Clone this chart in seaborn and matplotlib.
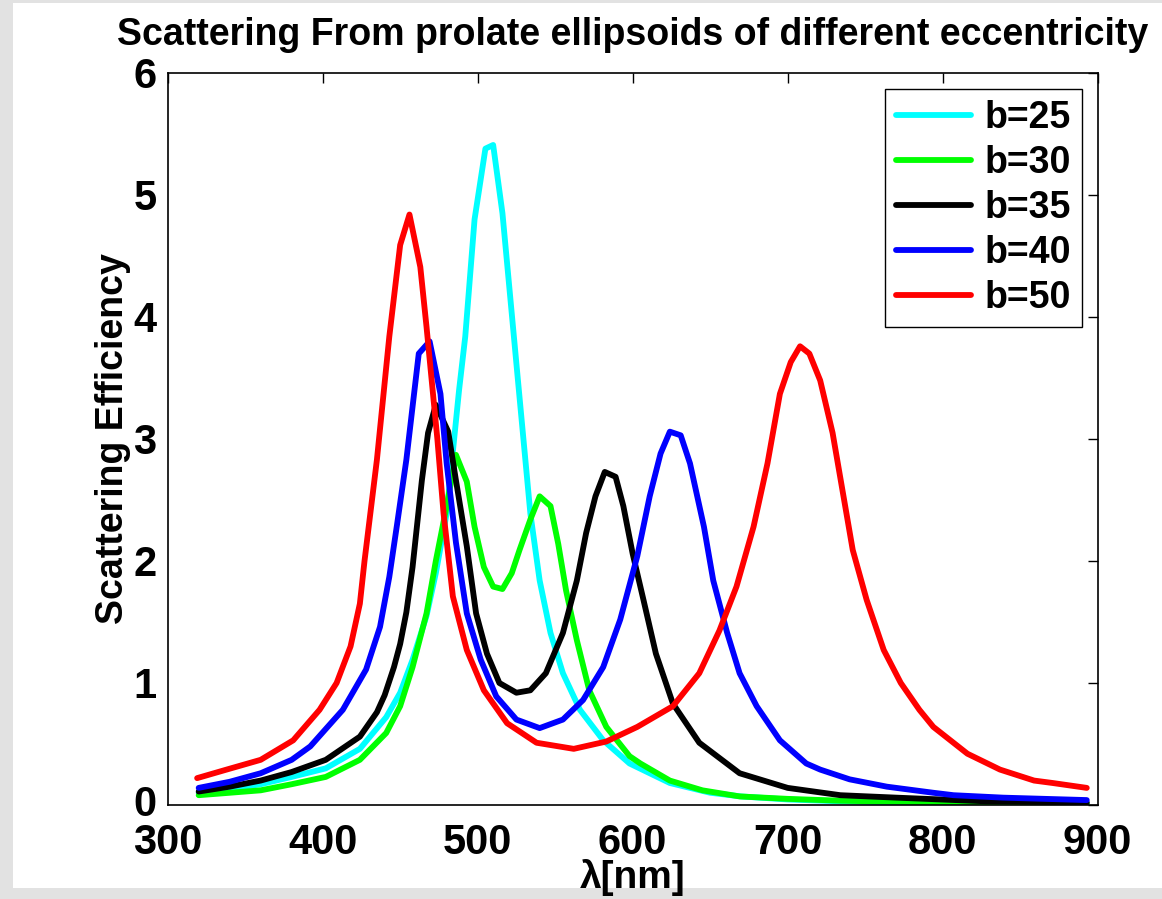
import matplotlib
matplotlib.use("Agg")
import matplotlib.pyplot as plt
from matplotlib.patches import Rectangle
from matplotlib.transforms import ScaledTranslation
import pandas as pd
import seaborn as sns

# values (wavelength in nm, scattering efficiency)
lam_b25 = [320, 340, 360, 380, 402, 424, 441, 450, 458, 467, 473, 480, 488, 492, 498, 505, 510,
           516, 526, 534, 540, 547, 555, 566, 581, 598, 624, 650, 670, 700, 734, 770, 800, 840, 893]
eff_b25 = [0.10, 0.13, 0.17, 0.23, 0.30, 0.46, 0.72, 0.92, 1.19, 1.55, 1.90, 2.39, 3.40, 3.84, 4.80, 5.38, 5.41,
           4.85, 3.48, 2.39, 1.84, 1.41, 1.08, 0.78, 0.53, 0.34, 0.18, 0.10, 0.07, 0.045, 0.03, 0.02, 0.015, 0.012, 0.01]

lam_b30 = [320, 340, 360, 380, 402, 424, 441, 450, 458, 467, 473, 480, 486, 493, 498, 504, 510, 516, 522,
           527, 534, 540, 547, 552, 557, 564, 572, 583, 598, 605, 624, 645, 669, 700, 734, 800, 893]
eff_b30 = [0.08, 0.10, 0.12, 0.17, 0.23, 0.37, 0.59, 0.81, 1.13, 1.57, 2.00, 2.45, 2.87, 2.65, 2.28, 1.95, 1.79, 1.77, 1.90,
           2.09, 2.34, 2.53, 2.45, 2.14, 1.76, 1.35, 0.94, 0.64, 0.40, 0.34, 0.20, 0.12, 0.07, 0.05, 0.035, 0.02, 0.01]

lam_b35 = [320, 340, 360, 380, 402, 424, 435, 440, 446, 450, 454, 458, 464, 468, 473, 481, 486, 493, 499, 506, 514,
           525, 534, 544, 555, 564, 570, 576, 582, 589, 594, 600, 607, 615, 626, 643, 669, 700, 734, 770, 828, 893]
eff_b35 = [0.11, 0.15, 0.20, 0.27, 0.37, 0.56, 0.76, 0.90, 1.13, 1.32, 1.58, 1.95, 2.66, 3.05, 3.28, 3.06, 2.66, 2.12, 1.57, 1.24, 1.00,
           0.92, 0.94, 1.08, 1.41, 1.84, 2.23, 2.53, 2.73, 2.69, 2.45, 2.06, 1.68, 1.24, 0.83, 0.51, 0.26, 0.14, 0.08, 0.06, 0.03, 0.02]

lam_b40 = [320, 340, 360, 380, 392, 413, 428, 437, 443, 448, 454, 462, 469, 476, 480, 486, 493, 502, 512, 525,
           540, 555, 568, 581, 592, 603, 611, 618, 624, 631, 637, 646, 652, 661, 669, 680, 695, 712, 721, 740,
           764, 794, 807, 839, 893]
eff_b40 = [0.14, 0.19, 0.26, 0.37, 0.48, 0.78, 1.11, 1.46, 1.87, 2.30, 2.83, 3.70, 3.80, 3.37, 2.80, 2.15, 1.57, 1.19, 0.89, 0.70,
           0.63, 0.70, 0.86, 1.13, 1.52, 2.04, 2.53, 2.88, 3.06, 3.03, 2.80, 2.28, 1.84, 1.41, 1.08, 0.81, 0.53, 0.34, 0.29, 0.21,
           0.15, 0.10, 0.08, 0.06, 0.04]

lam_b50 = [319, 338, 360, 381, 398, 409, 418, 424, 427, 435, 443, 450, 456, 463, 467, 474, 478, 484, 493, 504,
           519, 538, 562, 583, 603, 626, 643, 656, 667, 678, 687, 695, 702, 708, 714, 721, 729, 742, 751, 762,
           773, 785, 794, 807, 816, 837, 859, 871, 893]
eff_b50 = [0.22, 0.29, 0.37, 0.53, 0.78, 1.00, 1.30, 1.65, 2.00, 2.83, 3.84, 4.59, 4.84, 4.41, 3.92, 3.00, 2.39, 1.71, 1.27, 0.94,
           0.67, 0.51, 0.46, 0.52, 0.64, 0.81, 1.08, 1.43, 1.79, 2.28, 2.80, 3.37, 3.63, 3.76, 3.70, 3.48, 3.05, 2.09, 1.68, 1.27,
           1.00, 0.78, 0.64, 0.51, 0.42, 0.29, 0.20, 0.18, 0.14]

labels = ["b=25", "b=30", "b=35", "b=40", "b=50"]
colors = ["#00ffff", "#00ff00", "#000000", "#0000ff", "#ff0000"]

# long table for seaborn
parts = []
for lam, eff, lab in zip([lam_b25, lam_b30, lam_b35, lam_b40, lam_b50],
                         [eff_b25, eff_b30, eff_b35, eff_b40, eff_b50], labels):
    parts.append(pd.DataFrame({"lam": lam, "eff": eff, "b": lab}))
df = pd.concat(parts, ignore_index=True)

sns.set_style("white")
plt.rcParams["font.family"] = ["Liberation Sans", "DejaVu Sans"]
plt.rcParams["font.weight"] = "bold"
plt.rcParams["axes.labelweight"] = "bold"
plt.rcParams["axes.titleweight"] = "bold"
plt.rcParams["text.color"] = "black"
plt.rcParams["axes.labelcolor"] = "black"

fig = plt.figure(figsize=(11.62, 8.99), dpi=100, facecolor="#e2e2e2")
# white slide area behind the plot
fig.patches.append(Rectangle((0.0112, 0.0122), 1.0, 0.9844, transform=fig.transFigure,
                             facecolor="white", edgecolor="none", zorder=-10))
ax = fig.add_axes([0.1443, 0.1046, 0.8003, 0.8142])
ax.set_zorder(1)

sns.lineplot(data=df, x="lam", y="eff", hue="b", hue_order=labels,
             palette=dict(zip(labels, colors)), estimator=None, sort=False,
             linewidth=4.2, legend=False, ax=ax)

ax.set_xlim(300, 900)
ax.set_ylim(0, 6)
ax.set_xticks(range(300, 901, 100))
ax.set_yticks(range(0, 7))
ax.tick_params(direction="in", length=7, width=1, top=True, right=True,
               labelsize=30, colors="black")
ax.tick_params(axis="x", pad=13)
ax.tick_params(axis="y", pad=8)
for s in ax.spines.values():
    s.set_linewidth(1.2)
    s.set_color("black")

# nudge the bottom "0" a little up so it doesn't collide with "300"
zero_lab = ax.get_yticklabels()[0]
zero_lab.set_transform(zero_lab.get_transform() + ScaledTranslation(0, 3 / 72, fig.dpi_scale_trans))

ax.set_xlabel("λ[nm]", fontsize=28, labelpad=-3)
ax.set_ylabel("Scattering Efficiency", fontsize=27, labelpad=2)
ax.set_title("Scattering From prolate ellipsoids of different eccentricity",
             fontsize=27, pad=20, color="black")

leg = ax.legend(ax.lines[:5], labels, loc="upper right", fontsize=27, frameon=True,
                fancybox=False, framealpha=1, edgecolor="black", handlelength=2.0,
                handletextpad=0.35, labelspacing=0.24, borderpad=0.3, borderaxespad=0.42)
leg.get_frame().set_linewidth(1.0)
for t in leg.get_texts():
    t.set_color("black")

fig.savefig("out.png", dpi=100, facecolor=fig.get_facecolor())
